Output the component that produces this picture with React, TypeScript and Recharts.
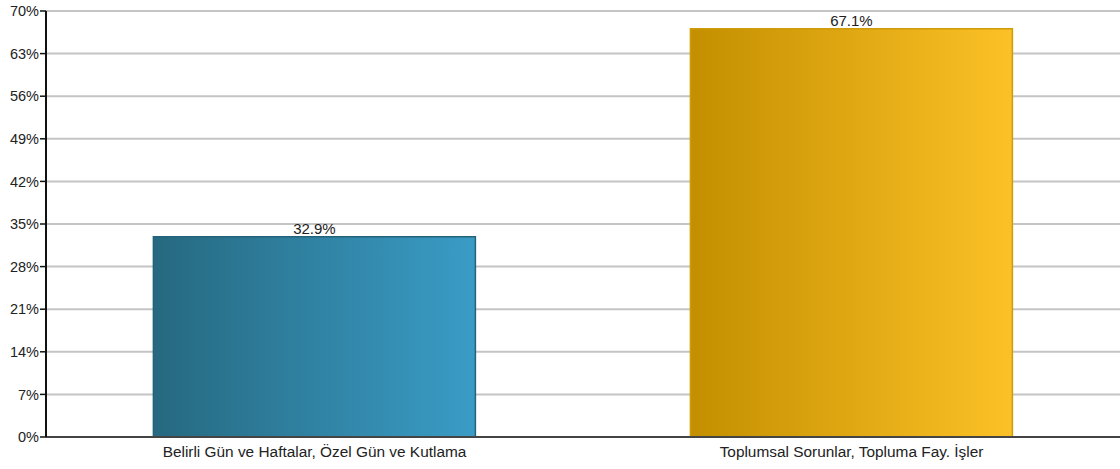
import { BarChart, Bar, XAxis, YAxis, CartesianGrid, Cell, LabelList } from "recharts";

// kategoriler ve yüzdeler
const categories = [
  "Belirli Gün ve Haftalar, Özel Gün ve Kutlama",
  "Toplumsal Sorunlar, Topluma Fay. İşler",
];
const values = [32.9, 67.1];
const yTicks = [0, 7, 14, 21, 28, 35, 42, 49, 56, 63, 70];

const gradients = [
  { id: "g0", from: "#266980", to: "#3a9cc6", stroke: "#24637a" },
  { id: "g1", from: "#c38f00", to: "#fcc126", stroke: "#cf9b08" },
];

const data = categories.map((name, i) => ({ name, value: values[i] }));

export default function App() {
  return (
    <div style={{ position: "absolute", left: 0, top: 0, background: "#fff" }}>
      <BarChart
        width={1120}
        height={469}
        data={data}
        margin={{ top: 11, right: 0, bottom: 0, left: 0 }}
        barCategoryGap="20%"
        style={{ fontFamily: "'Liberation Sans', Arial, sans-serif" }}
      >
        <defs>
          {gradients.map((g) => (
            <linearGradient key={g.id} id={g.id} x1="0" y1="0" x2="1" y2="0">
              <stop offset="0%" stopColor={g.from} />
              <stop offset="100%" stopColor={g.to} />
            </linearGradient>
          ))}
        </defs>
        <CartesianGrid vertical={false} stroke="#c4c4c4" strokeWidth={2} />
        <XAxis
          dataKey="name"
          height={32}
          tickLine={false}
          axisLine={{ stroke: "#444", strokeWidth: 2 }}
          tick={{ fill: "#222", fontSize: 15.4 }}
          tickMargin={3}
          interval={0}
        />
        <YAxis
          width={46}
          domain={[0, 70]}
          ticks={yTicks}
          interval={0}
          tickFormatter={(v: number) => `${v}%`}
          axisLine={{ stroke: "#111", strokeWidth: 2 }}
          tickLine={{ stroke: "#111", strokeWidth: 1.5 }}
          tickSize={6}
          tickMargin={1}
          tick={{ fill: "#222", fontSize: 14.5 }}
        />
        <Bar dataKey="value" isAnimationActive={false} strokeWidth={1.5}>
          {data.map((d, i) => (
            <Cell key={d.name} fill={`url(#${gradients[i].id})`} stroke={gradients[i].stroke} />
          ))}
          <LabelList
            dataKey="value"
            position="top"
            offset={3}
            formatter={(v: number) => `${v}%`}
            style={{ fill: "#222", fontSize: 15 }}
          />
        </Bar>
      </BarChart>
    </div>
  );
}
